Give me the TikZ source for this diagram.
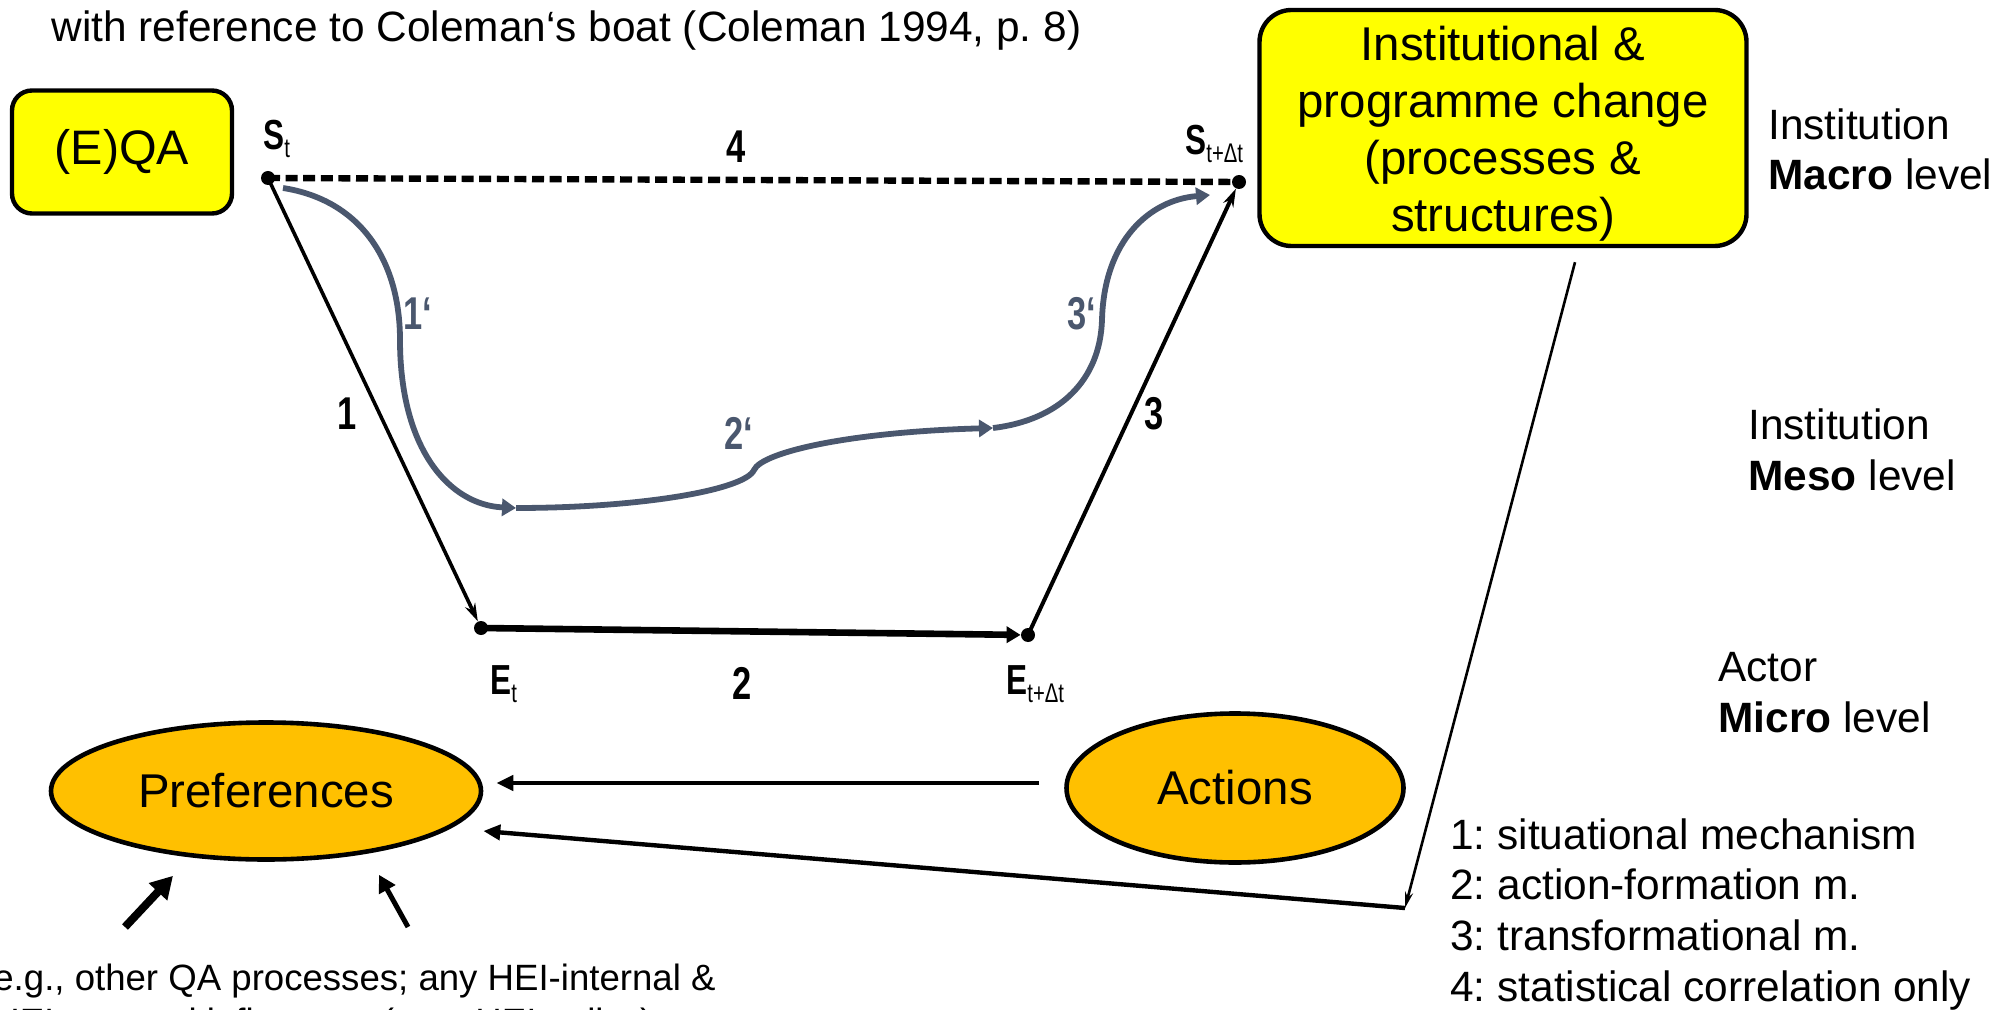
\documentclass[tikz,border=0pt]{standalone}
\usepackage{fontspec}
\setmainfont{Liberation Sans}
\newfontfamily\narrowfont[FakeStretch=0.75]{Liberation Sans}
\usetikzlibrary{arrows.meta,shapes.geometric}
\definecolor{qayellow}{RGB}{255,255,0}
\definecolor{prefor}{RGB}{255,192,0}
\definecolor{slate}{RGB}{74,87,110}
\newcommand{\bsub}[1]{\raisebox{-4pt}{\fontsize{13.5pt}{14pt}\mdseries\selectfont #1}}
\frenchspacing
\begin{document}
\begin{tikzpicture}[x=0.5pt,y=-0.5pt,
  ybox/.style={draw=black,line width=2.2pt,fill=qayellow,inner sep=0pt,align=center,
    font=\fontsize{23.7pt}{28.5pt}\selectfont},
  oval/.style={ellipse,draw=black,line width=2.3pt,fill=prefor,inner sep=0pt,
    font=\fontsize{23.7pt}{28.5pt}\selectfont},
  dotnode/.style={circle,fill=black,inner sep=0pt,minimum size=7pt},
  boatlbl/.style={inner sep=0pt,font=\narrowfont\bfseries\fontsize{23pt}{26pt}\selectfont},
  graylbl/.style={boatlbl,text=slate},
  slbl/.style={inner sep=0pt,anchor=base west,font=\narrowfont\bfseries\fontsize{21pt}{24pt}\selectfont},
  lvl/.style={inner sep=0pt,anchor=base west,align=left,font=\fontsize{21.2pt}{25.3pt}\selectfont},
  graycurve/.style={draw=slate,line width=2.9pt,-{Triangle[length=7pt,width=8.5pt]}},
  thinarrow/.style={-{Stealth[length=9pt,width=5.5pt]}}
]
\useasboundingbox (0,0) rectangle (1995,1010);
\clip (0,0) rectangle (1995,1010);

% title
\node[inner sep=0pt,anchor=base west,font=\fontsize{21.2pt}{25.3pt}\selectfont] (title) at (51,42)
  {with reference to Coleman‘s boat (Coleman 1994, p. 8)};

% boxes
\node[ybox,rounded corners=10pt,minimum width=110pt,minimum height=61.5pt,
  font=\fontsize{24.2pt}{28.5pt}\selectfont] (qa) at (122,152) {(E)QA};
\node[ybox,rounded corners=16pt,minimum width=243.5pt,minimum height=118pt] (big) at (1503,128)
  {\rule{0pt}{22.5pt}Institutional \&\\programme change\\(processes \&\\structures)};

% level labels (base = last line)
\node[lvl] (macro) at (1768,190) {Institution\\\textbf{Macro} level};
\node[lvl] (meso) at (1748,490) {Institution\\\textbf{Meso} level};
\node[lvl] (micro) at (1718,732) {Actor\\\textbf{Micro} level};

% legend
\node[lvl] (legend) at (1450,1001) {1: situational mechanism\\2: action-formation m.\\3: transformational m.\\4: statistical correlation only};

% bottom text
\node[inner sep=0pt,anchor=base west,align=left,font=\fontsize{18.3pt}{22pt}\selectfont] (other) at (-7,1034)
  {e.g., other QA processes; any HEI-internal \&\\HEI-external influences (e.g., HEI policy)};

% boat
\node[dotnode] (St) at (268,178) {};
\node[dotnode] (Stt) at (1239,182) {};
\node[dotnode] (Et) at (481,628) {};
\node[dotnode] (Ett) at (1028,635) {};

\draw[line width=3.2pt,dash pattern=on 6pt off 2.8pt] (St.center) -- (Stt.center);
\draw[line width=1.8pt,thinarrow] (St.center) -- (Et);
\draw[line width=3.3pt,-{Triangle[length=7pt,width=8pt]}] (Et.center) -- (Ett);
\draw[line width=2pt,thinarrow] (Ett.center) -- (Stt);

\coordinate (c1s) at (283,188);
\coordinate (j1) at (516,508);
\coordinate (j2) at (993,428);
\coordinate (j3) at (1210,195);
\draw[graycurve] (c1s) .. controls (360,200) and (400,260) .. (400,340)
  .. controls (400,450) and (450,505) .. (j1);
\draw[graycurve] (j1) .. controls (640,508) and (745,490) .. (754,470)
  .. controls (762,452) and (850,432) .. (j2);
\draw[graycurve] (j2) .. controls (1060,420) and (1100,380) .. (1102,320)
  .. controls (1104,240) and (1150,200) .. (j3);

\node[slbl] (lSt) at (263,150) {S\bsub{t}};
\node[slbl] (lStt) at (1185,155) {S\bsub{t+Δt}};
\node[slbl] (lEt) at (490,694) {E\bsub{t}};
\node[slbl] (lEtt) at (1006,694) {E\bsub{t+Δt}};

\node[boatlbl] (n4) at (736,147) {4};
\node[boatlbl] (n1) at (347,414) {1};
\node[boatlbl] (n2) at (742,683) {2};
\node[boatlbl] (n3) at (1154,414) {3};
\node[graylbl] (g1) at (418,314) {1‘};
\node[graylbl] (g2) at (739,433) {2‘};
\node[graylbl] (g3) at (1082,314) {3‘};

% ellipses
\node[oval,minimum width=215pt,minimum height=68.5pt] (pref) at (266,791) {Preferences};
\node[oval,minimum width=168.5pt,minimum height=74.5pt] (act) at (1235,788) {Actions};

% connectors at micro level
\draw[line width=2.2pt,-{Triangle[length=8.5pt,width=7.5pt]},shorten <=12.5pt,shorten >=6.5pt]
  ([yshift=2.5pt]act.west) -- ([yshift=4pt]pref.east);
\coordinate (corner) at (1405,908);
\draw[line width=1.3pt,-{Stealth[length=8pt,width=4pt]}] ([xshift=36pt,yshift=-7pt]big.south) -- (corner);
\draw[line width=2.2pt,-{Triangle[length=8.5pt,width=7.5pt]}] (corner) -- ([yshift=-20pt]pref.east);

\coordinate (s1) at (125,927);
\coordinate (s2) at (408,927);
\draw[line width=4pt,-{Triangle[length=11pt,width=12pt]}] (s1) -- ([xshift=-46.5pt,yshift=-7pt]pref.south);
\draw[line width=2.5pt,-{Triangle[length=8.5pt,width=9pt]}] (s2) -- ([xshift=56.5pt,yshift=-6.5pt]pref.south);
\end{tikzpicture}
\end{document}
